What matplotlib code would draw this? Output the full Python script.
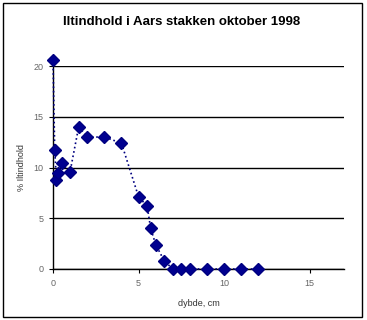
import matplotlib
matplotlib.use("Agg")
import matplotlib.pyplot as plt
from matplotlib.patches import Rectangle

depth = [0, 0.1, 0.2, 0.3, 0.5, 1.0, 1.5, 2.0, 3.0, 4.0, 5.0, 5.5, 5.7, 6.0, 6.5,
         7.0, 7.5, 8.0, 9.0, 10.0, 11.0, 12.0]
oxygen = [20.6, 11.7, 8.8, 9.5, 10.4, 9.6, 14.0, 13.0, 13.0, 12.4, 7.1, 6.2, 4.05, 2.4, 0.8,
          0, 0, 0, 0, 0, 0, 0]
xticks = [0, 5, 10, 15]
yticks = [0, 5, 10, 15, 20]

plt.rcParams['font.family'] = ['Liberation Sans', 'DejaVu Sans']

fig = plt.figure(figsize=(3.67, 3.2), dpi=100)
fig.patches.append(Rectangle((3/367, 3/320), 359/367, 314/320, transform=fig.transFigure,
                             fill=False, edgecolor='black', linewidth=1.0))
ax = fig.add_axes([53/367, 1-269/320, 291/367, 203/320])

ax.plot(depth, oxygen, linestyle=':', color='#000080', linewidth=1.2,
        marker='D', markersize=6.5, markerfacecolor='#000090', markeredgecolor='#000080',
        clip_on=False, zorder=3)

ax.set_xlim(0, 17)
ax.set_ylim(0, 20)
ax.set_xticks(xticks)
ax.set_yticks(yticks)
ax.yaxis.grid(True, color='black', linewidth=1.0)
ax.set_axisbelow(True)
for s in ['top', 'right']:
    ax.spines[s].set_visible(False)
for s in ['left', 'bottom']:
    ax.spines[s].set_linewidth(1.0)
ax.tick_params(axis='both', labelsize=6.5, colors='black', labelcolor='#666666',
               length=3, width=0.8, pad=4)

ax.set_xlabel('dybde, cm', fontsize=6.5, color='#333333', labelpad=8)
ax.set_ylabel('% Iltindhold', fontsize=6.5, color='#333333', labelpad=5)
fig.text(182/367, 1-22/320, 'Iltindhold i Aars stakken oktober 1998', ha='center', va='center',
         fontsize=9.5, fontweight='bold')

fig.savefig('out.png', dpi=100)
